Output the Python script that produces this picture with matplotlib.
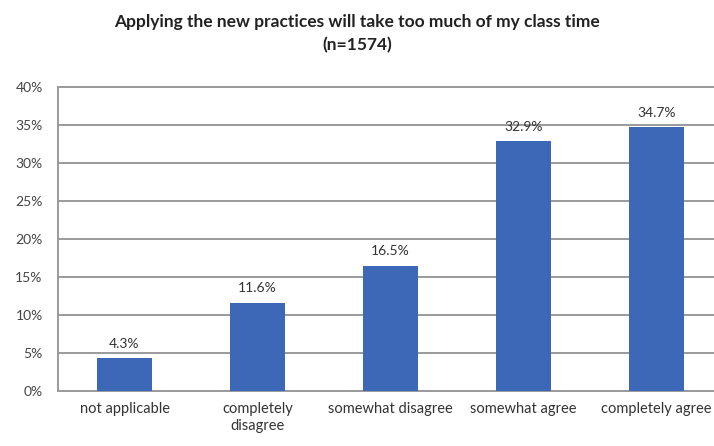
import matplotlib.pyplot as plt
import numpy as np

# survey responses
categories = ["not applicable", "completely\ndisagree", "somewhat disagree",
              "somewhat agree", "completely agree"]
percent = [4.3, 11.6, 16.5, 32.9, 34.7]
yticks = [0, 5, 10, 15, 20, 25, 30, 35, 40]

plt.rcParams['font.family'] = ['Lato', 'DejaVu Sans']

fig = plt.figure(figsize=(7.14, 4.46), dpi=100)
# axes runs a little past the right edge of the figure
ax = fig.add_axes([58 / 714, 1 - 391 / 446, 665 / 714, 304 / 446])

x = np.arange(len(categories))
ax.bar(x, percent, width=0.41, color='#3d68b8', zorder=3)

for xi, v in zip(x, percent):
    ax.text(xi, v + 1.1, f"{v}%", ha='center', va='bottom', fontsize=10, color='#333333')

ax.set_xlim(-0.5, len(categories) - 0.5)
ax.set_ylim(0, 40)
ax.set_yticks(yticks)
ax.set_yticklabels([f"{t}%" for t in yticks], fontsize=10, color='#444444')
ax.set_xticks(x)
ax.set_xticklabels(categories, fontsize=10.5, color='#333333', linespacing=1.3)
ax.tick_params(axis='both', length=0)
ax.tick_params(axis='x', pad=8)
ax.tick_params(axis='y', pad=11)

ax.yaxis.grid(True, color='#9a9a9a', linewidth=1.4, zorder=0)
for side in ['left', 'top', 'bottom', 'right']:
    ax.spines[side].set_color('#9a9a9a')
    ax.spines[side].set_linewidth(1.4)

fig.text(0.5, 1 - 22 / 446, "Applying the new practices will take too much of my class time",
         ha='center', va='center', fontsize=12.5, fontweight='bold', color='#222222')
fig.text(0.5, 1 - 45 / 446, "(n=1574)", ha='center', va='center',
         fontsize=12.5, fontweight='bold', color='#222222')

fig.savefig("out.png", dpi=100)
